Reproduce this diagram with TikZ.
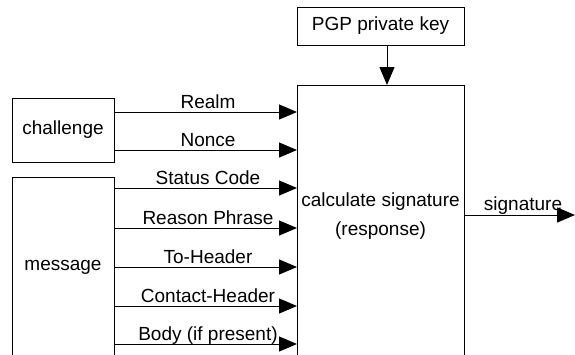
\documentclass[tikz,border=0pt]{standalone}
\usepackage{fontspec}
\setmainfont{Liberation Sans}
\usetikzlibrary{arrows.meta}
\tikzset{
  box/.style={draw, line width=1pt, outer sep=0pt, inner sep=0pt, anchor=north west,
    font=\fontsize{19}{29}\selectfont},
  arr/.style={draw, line width=1pt, -{Triangle[length=18pt,width=15pt]}},
  lbl/.style={anchor=base, inner sep=0pt, yshift=3.6pt, xshift=2.5pt,
    font=\fontsize{19}{29}\selectfont},
  txt/.style={inner sep=0pt, align=center, font=\fontsize{19}{29}\selectfont}
}
\begin{document}
\begin{tikzpicture}[x=1pt, y=-1pt]
\useasboundingbox (0,0) rectangle (575,354);
\clip (0,0) rectangle (575,354);
\node[box, minimum width=167pt, minimum height=38pt] (pgp) at (297,7) {PGP private key};
\node[box, minimum width=167pt, minimum height=300pt] (calc) at (297,85) {};
\node[txt] (calctext) at (380.5,216.5) {calculate signature\\(response)};
\node[box, minimum width=102pt, minimum height=64pt] (chal) at (12,98) {challenge};
\node[box, minimum width=102pt, minimum height=180pt] (msg) at (12,177) {message};
\coordinate (out) at (575,215);
% key arrow
\draw[arr] ([xshift=6.5pt]pgp.south) -- ([xshift=6.5pt]calc.north);
% challenge inputs
\draw[arr] (chal.east |- 0,112) -- node[lbl] {Realm} (calc.west |- 0,112);
\draw[arr] (chal.east |- 0,150) -- node[lbl] {Nonce} (calc.west |- 0,150);
% message inputs
\draw[arr] (msg.east |- 0,188) -- node[lbl] {Status Code} (calc.west |- 0,188);
\draw[arr] (msg.east |- 0,228) -- node[lbl] {Reason Phrase} (calc.west |- 0,228);
\draw[arr] (msg.east |- 0,267) -- node[lbl] {To-Header} (calc.west |- 0,267);
\draw[arr] (msg.east |- 0,306) -- node[lbl] {Contact-Header} (calc.west |- 0,306);
\draw[arr] (msg.east |- 0,344) -- node[lbl] {Body (if present)} (calc.west |- 0,344);
% output
\draw[arr] (calc.east |- out) -- node[lbl, xshift=1pt, yshift=1.4pt] {signature} (out);
\end{tikzpicture}
\end{document}
